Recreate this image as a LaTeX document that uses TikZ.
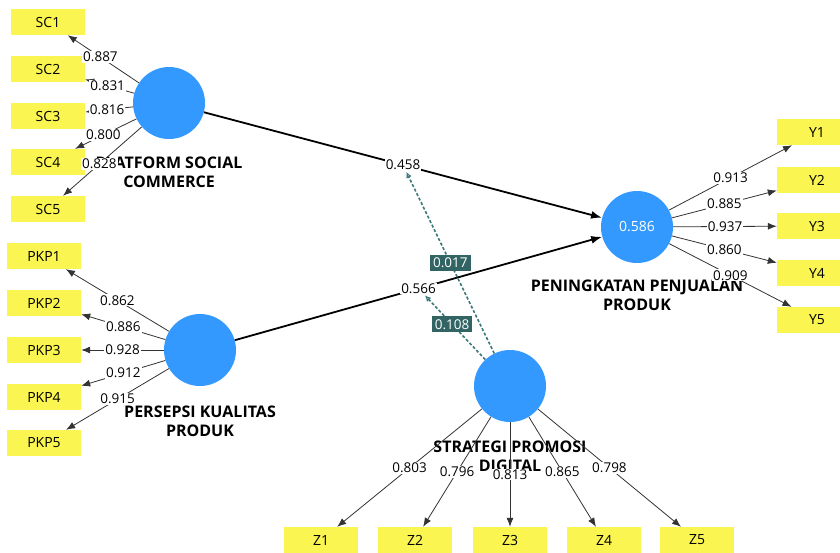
\documentclass[tikz,border=0pt]{standalone}
\usepackage{fontspec}
\setmainfont{Open Sans}
\usetikzlibrary{arrows.meta,positioning}

\definecolor{lvblue}{RGB}{51,153,255}
\definecolor{indyellow}{RGB}{250,245,80}
\definecolor{modteal}{RGB}{50,100,100}
\definecolor{modline}{RGB}{60,120,120}

\tikzset{
  latent/.style={circle,fill=lvblue,minimum size=72pt,inner sep=0pt,text=white,font=\fontsize{14}{16}\selectfont},
  indbox/.style={fill=indyellow,minimum width=74pt,minimum height=26pt,inner sep=0pt,font=\fontsize{14}{16}\selectfont},
  lvname/.style={align=center,inner sep=0pt,font=\bfseries\fontsize{16}{19}\selectfont},
  ind/.style={draw=black!80,line width=0.8pt,-{Latex[length=9pt,width=7pt]}},
  struct/.style={draw=black,line width=1.8pt,-{Latex[length=11pt,width=8pt]}},
  load/.style={fill=white,inner sep=1pt,font=\fontsize{13.5}{15}\selectfont},
  mod/.style={draw=modline,line width=1.6pt,dash pattern=on 3pt off 2pt,-{Latex[open,length=6pt,width=6pt]}},
  modlbl/.style={fill=modteal,text=white,inner sep=3pt,font=\fontsize{13.5}{15}\selectfont},
}

\begin{document}
\begin{tikzpicture}[x=1pt,y=-1pt]
    \useasboundingbox (0,0) rectangle (840,552);

    % latent variables
    \node[latent] (SC) at (169,103) {};
    \node[latent] (PKP) at (200,350) {};
    \node[latent] (PP) at (637,227) {0.586};
    \node[latent] (SP) at (510,386) {};

    \node[lvname,below=17pt of SC] (SCname) {PLATFORM SOCIAL\\COMMERCE};
    \node[lvname,below=20pt of PKP] (PKPname) {PERSEPSI KUALITAS\\PRODUK};
    \node[lvname,below=17pt of PP] (PPname) {PENINGKATAN PENJUALAN\\PRODUK};
    \node[lvname,below=18pt of SP] (SPname) {STRATEGI PROMOSI\\DIGITAL};

    % indicators
    \foreach \i/\y in {1/22,2/69,3/116,4/162,5/209}
        \node[indbox] (SC\i) at (48,\y) {SC\i};
    \foreach \i/\y in {1/256,2/303,3/350,4/397,5/443}
        \node[indbox] (PKP\i) at (44,\y) {PKP\i};
    \foreach \i/\y in {1/132,2/180,3/226,4/273,5/320}
        \node[indbox,minimum width=80pt] (Y\i) at (817,\y) {Y\i};
    \foreach \i/\x in {1/321,2/415,3/510,4/604,5/697}
        \node[indbox] (Z\i) at (\x,540) {Z\i};

    % outer loadings
    \foreach \i/\v in {1/0.887,2/0.831,3/0.816,4/0.800,5/0.828}
        \draw[ind] (SC) -- node[load,pos=0.54] {\v} (SC\i);
    \foreach \i/\v in {1/0.862,2/0.886,3/0.928,4/0.912,5/0.915}
        \draw[ind] (PKP) -- node[load,pos=0.5] {\v} (PKP\i);
    \foreach \i/\v in {1/0.913,2/0.885,3/0.937,4/0.860,5/0.909}
        \draw[ind] (PP) -- node[load,pos=0.5] {\v} (Y\i);
    \foreach \i/\v in {1/0.803,2/0.796,3/0.813,4/0.865,5/0.798}
        \draw[ind] (SP) -- node[load,pos=0.5] {\v} (Z\i);

    % path coefficients
    \draw[struct] (SC) -- node[load] (m1) {0.458} (PP);
    \draw[struct] (PKP) -- node[load] (m2) {0.566} (PP);

    % moderating effects
    \draw[mod] (SP) -- node[modlbl,pos=0.5] {0.017} (m1);
    \draw[mod] (SP) -- node[modlbl,pos=0.55] {0.108} (m2);
\end{tikzpicture}
\end{document}
